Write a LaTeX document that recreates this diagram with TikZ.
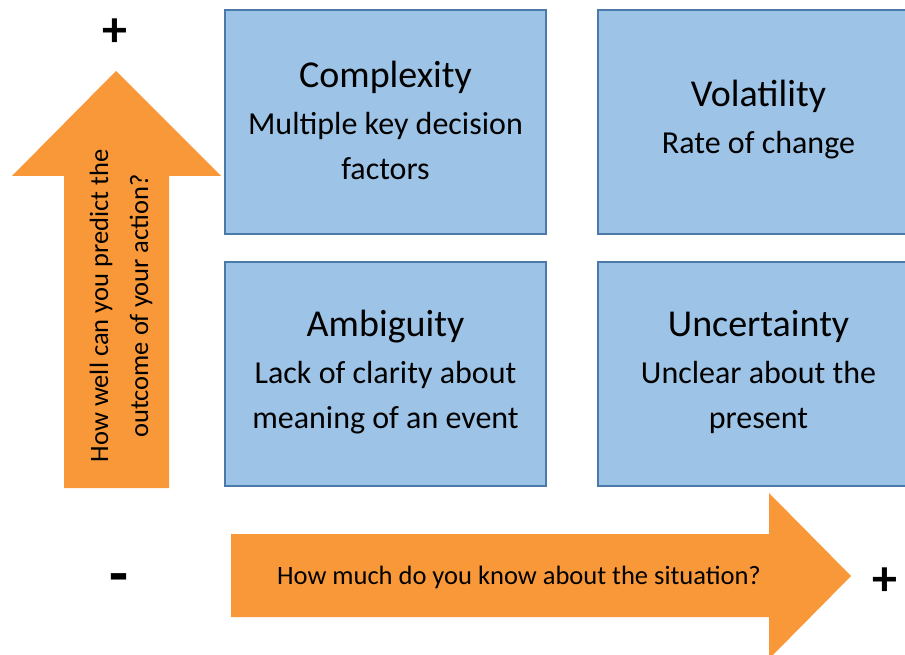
\documentclass[tikz,border=0pt]{standalone}
\usepackage{fontspec}
\setmainfont{Carlito}
\definecolor{boxfill}{HTML}{9DC3E6}
\definecolor{boxline}{HTML}{4A79AA}
\definecolor{arroworange}{HTML}{F99838}
\begin{document}
\begin{tikzpicture}[x=1pt,y=-1pt,
  quad/.style={draw=boxline, fill=boxfill, line width=2pt,
    minimum width=321pt, minimum height=224pt, inner sep=0pt,
    align=center, font=\fontsize{32}{45}\selectfont},
  qtext/.style={align=center, inner sep=0pt, font=\fontsize{32}{45}\selectfont},
  axislabel/.style={font=\fontsize{26.5}{40}\selectfont, align=center, inner sep=0pt},
  sign/.style={font=\fontsize{50}{50}\selectfont\bfseries, inner sep=0pt}]
\useasboundingbox (0,0) rectangle (905,655);
\clip (0,0) rectangle (905,655);

% vertical axis arrow
\fill[arroworange] (64,488) -- (64,176) -- (12,176) -- (116,71) -- (221,176)
  -- (169,176) -- (169,488) -- cycle;
\node[axislabel, rotate=90] (yaxis) at (121,306)
  {How well can you predict the\\outcome of your action?};

% horizontal axis arrow
\fill[arroworange] (231,534) -- (769,534) -- (769,493) -- (851,576) -- (769,659)
  -- (769,617) -- (231,617) -- cycle;
\node[axislabel] (xaxis) at (519,577) {How much do you know about the situation?};

% the four quadrants
\node[quad] (complexity) at (385.5,122) {};
\node[quad] (volatility) at (758.5,122) {};
\node[quad] (ambiguity) at (385.5,374) {};
\node[quad] (uncertainty) at (758.5,374) {};

\node[qtext] (complexitytext) at (385.5,120)
  {{\fontsize{38}{38}\selectfont Complexity}\\[2pt]Multiple key decision\\factors};
\node[qtext] (volatilitytext) at (758.5,120)
  {{\fontsize{38}{38}\selectfont Volatility}\\[2pt]Rate of change};
\node[qtext] (ambiguitytext) at (385.5,372)
  {{\fontsize{38}{38}\selectfont Ambiguity}\\[2pt]Lack of clarity about\\meaning of an event};
\node[qtext] (uncertaintytext) at (758.5,372)
  {{\fontsize{38}{38}\selectfont Uncertainty}\\[2pt]Unclear about the\\present};

% axis end signs
\node[sign] (yplus) at (115,33) {+};
\node[sign, font=\fontsize{62}{62}\selectfont\bfseries] (xminus) at (119,584) {-};
\node[sign] (xplus) at (885,582) {+};
\end{tikzpicture}
\end{document}
